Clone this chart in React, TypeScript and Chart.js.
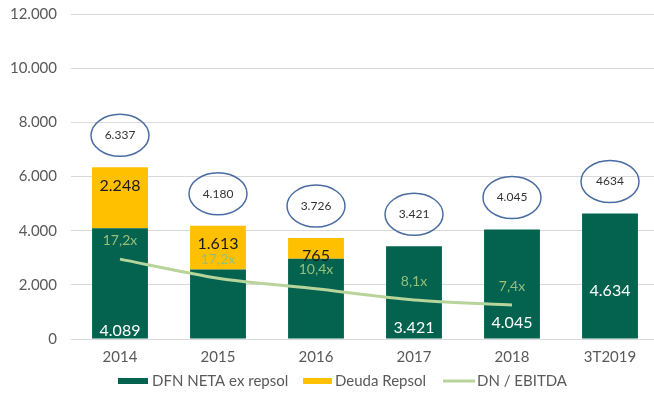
import React, { useEffect, useRef } from "react";
import { Chart, registerables } from "chart.js";

Chart.register(...registerables);

const categories = ["2014", "2015", "2016", "2017", "2018", "3T2019"];
const dfnNetaExRepsol = [4089, 2567, 2961, 3421, 4045, 4634];
const deudaRepsol = [2248, 1613, 765, null, null, null];
const dnEbitda = [17.2, 13.1, 10.8, 8.4, 7.3, null];
const dnEbitdaLabels = ["17,2x", "17,2x", "10,4x", "8,1x", "7,4x", ""];
const totalLabels = ["6.337", "4.180", "3.726", "3.421", "4.045", "4634"];
const dfnLabels = ["4.089", "", "", "3.421", "4.045", "4.634"];
const deudaLabels = ["2.248", "1.613", "765", "", "", ""];
const yMax = 12000;
const yStep = 2000;
const ratioAxisMax = 70;
const seriesNames = ["DFN NETA ex repsol", "Deuda Repsol", "DN / EBITDA"];

const DARK = "#03634F";
const YELLOW = "#FFC000";
const LINE = "#B7D49A";
const RATIO_TXT = "#98BF78";
const FONT = "Lato, 'Open Sans', sans-serif";

const fmt = (v: number) => v.toLocaleString("de-DE");

const labelsPlugin = {
  id: "customLabels",
  afterDatasetsDraw(chart: any) {
    const ctx = chart.ctx;
    const m0 = chart.getDatasetMeta(0);
    const m1 = chart.getDatasetMeta(1);
    const m2 = chart.getDatasetMeta(2);
    const base = chart.scales.y.getPixelForValue(0);
    const darkLift = [8, 0, 0, 11, 16, 48];
    ctx.save();
    ctx.textAlign = "center";
    ctx.textBaseline = "middle";
    categories.forEach((_, i) => {
      const b0 = m0.data[i];
      const b1 = m1.data[i];
      const x = b0.x;
      let top = b0.y;
      if (deudaRepsol[i] != null) top = Math.min(top, b1.y);
      ctx.beginPath();
      ctx.ellipse(x, top - 32, 29, 21, 0, 0, Math.PI * 2);
      ctx.strokeStyle = "#4A6CA3";
      ctx.lineWidth = 1.5;
      ctx.stroke();
      ctx.fillStyle = "#333";
      ctx.font = `12px ${FONT}`;
      ctx.fillText(totalLabels[i], x, top - 32);
      if (deudaLabels[i]) {
        ctx.fillStyle = "#1a1a1a";
        ctx.font = `16px ${FONT}`;
        ctx.fillText(deudaLabels[i], x, b1.y + 18);
      }
      if (dfnLabels[i]) {
        ctx.fillStyle = "#ffffff";
        ctx.font = `16px ${FONT}`;
        ctx.fillText(dfnLabels[i], x, base - darkLift[i]);
      }
      if (dnEbitdaLabels[i] && m2.data[i]) {
        ctx.fillStyle = RATIO_TXT;
        ctx.font = `14px ${FONT}`;
        ctx.fillText(dnEbitdaLabels[i], x, m2.data[i].y - 19);
      }
    });
    ctx.restore();
  },
  afterDraw(chart: any) {
    const ctx = chart.ctx;
    ctx.save();
    const y = 381;
    ctx.font = `15px ${FONT}`;
    ctx.textBaseline = "middle";
    ctx.textAlign = "left";
    ctx.fillStyle = DARK;
    ctx.fillRect(118, y - 3, 30, 6);
    ctx.fillStyle = "#595959";
    ctx.fillText(seriesNames[0], 152, y);
    ctx.fillStyle = YELLOW;
    ctx.fillRect(303, y - 3, 29, 6);
    ctx.fillStyle = "#595959";
    ctx.fillText(seriesNames[1], 335, y);
    ctx.strokeStyle = LINE;
    ctx.lineWidth = 3;
    ctx.beginPath();
    ctx.moveTo(443, y);
    ctx.lineTo(475, y);
    ctx.stroke();
    ctx.fillText(seriesNames[2], 477, y);
    ctx.restore();
  },
};

export default function App() {
  const ref = useRef<HTMLCanvasElement | null>(null);
  useEffect(() => {
    if (!ref.current) return;
    const chart = new Chart(ref.current, {
      type: "bar",
      data: {
        labels: categories,
        datasets: [
          {
            label: seriesNames[0],
            data: dfnNetaExRepsol,
            backgroundColor: DARK,
            stack: "s",
            order: 1,
            yAxisID: "y",
          },
          {
            label: seriesNames[1],
            data: deudaRepsol,
            backgroundColor: YELLOW,
            stack: "s",
            order: 1,
            yAxisID: "y",
          },
          {
            type: "line",
            label: seriesNames[2],
            data: dnEbitda,
            borderColor: LINE,
            borderWidth: 3,
            pointRadius: 0,
            tension: 0.25,
            order: 0,
            yAxisID: "y1",
          } as any,
        ],
      },
      options: {
        animation: false,
        responsive: true,
        maintainAspectRatio: false,
        datasets: { bar: { categoryPercentage: 1, barPercentage: 0.57 } },
        layout: { padding: { top: 14, bottom: 26, left: 0, right: 3 } },
        plugins: { legend: { display: false }, tooltip: { enabled: false } },
        scales: {
          x: {
            stacked: true,
            grid: { display: false, drawTicks: false },
            border: { display: false },
            ticks: { color: "#595959", font: { family: FONT, size: 15 }, padding: 9 },
          },
          y: {
            stacked: true,
            min: 0,
            max: yMax,
            afterFit: (s: any) => {
              s.width = 71;
              s.paddingTop = 0;
              s.paddingBottom = 0;
            },
            grid: { color: "#D9D9D9", lineWidth: 1, drawTicks: false },
            border: { display: false },
            ticks: {
              stepSize: yStep,
              padding: 14,
              color: "#595959",
              font: { family: FONT, size: 15 },
              callback: (v: any) => fmt(Number(v)),
            },
          },
          y1: {
            display: false,
            min: 0,
            max: ratioAxisMax,
          },
        },
      },
      plugins: [labelsPlugin],
    });
    return () => chart.destroy();
  }, []);
  return (
    <div style={{ position: "absolute", left: 0, top: 0, width: 654, height: 401, overflow: "hidden", background: "#fff" }}>
      <div style={{ position: "relative", width: 662, height: 401 }}>
        <canvas ref={ref} />
      </div>
    </div>
  );
}
